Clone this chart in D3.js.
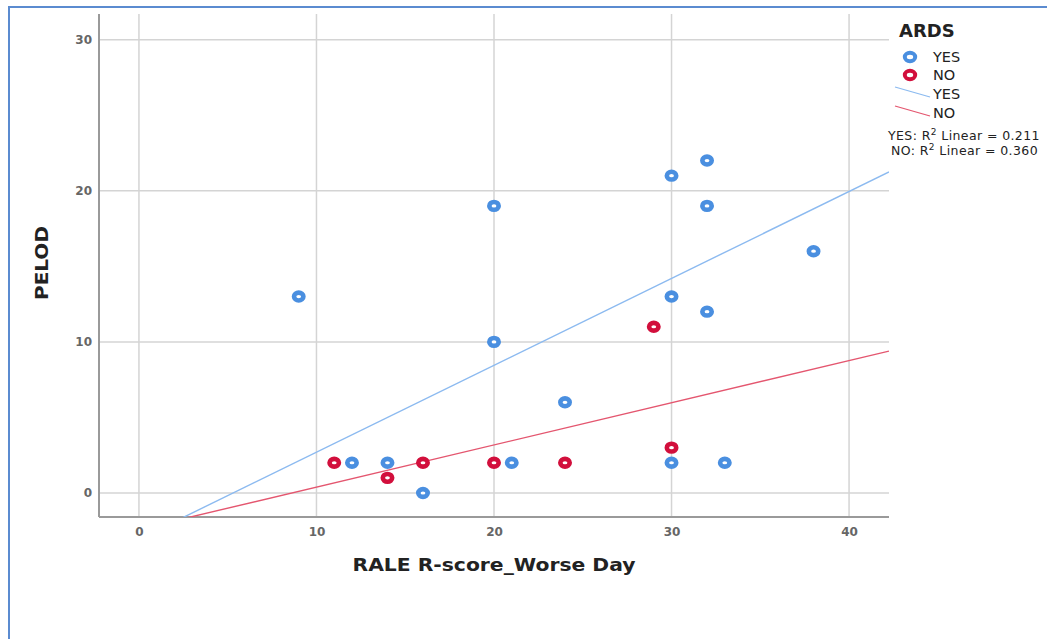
<!DOCTYPE html>
<html>
<head>
<meta charset="utf-8">
<script src="https://cdn.jsdelivr.net/npm/d3@7/dist/d3.min.js"></script>
<style>
  html, body { margin: 0; padding: 0; background: #fff; }
  svg { display: block; }
</style>
</head>
<body>
<svg id="chart" width="1047" height="639"></svg>
<script>
// RALE score vs PELOD, split by ARDS status
const yesX = [9, 12, 14, 16, 20, 20, 21, 24, 30, 30, 30, 32, 32, 32, 33, 38];
const yesY = [13, 2, 2, 0, 19, 10, 2, 6, 21, 13, 2, 22, 19, 12, 2, 16];
const noX = [11, 14, 16, 20, 24, 29, 30];
const noY = [2, 1, 2, 2, 2, 11, 3];

// linear fit lines [intercept, slope]
const yesFit = [-3.05, 0.575];
const noFit = [-2.40, 0.279];

const xTicks = [0, 10, 20, 30, 40];
const yTicks = [0, 10, 20, 30];
const r2Labels = [["YES: R", " Linear = 0.211"], ["NO: R", " Linear = 0.360"]];

const blue = "#4a8fe0", red = "#d20f3c";
const blueLine = "#8cbaf0", redLine = "#e4566f";
const FONT = "DejaVu Sans";

const svg = d3.select("#chart");

// outer frame
svg.append("path")
  .attr("d", "M9,639 L9,7 L1047,7")
  .attr("fill", "none").attr("stroke", "#5b8bd0").attr("stroke-width", 2);

const L = 99, R = 889, T = 14, B = 517;
const x = d3.scaleLinear().domain([-2.25, 42.25]).range([L, R]);
const y = d3.scaleLinear().domain([-1.59, 31.7]).range([B, T]);

const g = svg.append("g");

// grid
g.selectAll(".vg").data(xTicks).join("line")
  .attr("x1", d => x(d)).attr("x2", d => x(d)).attr("y1", T).attr("y2", B)
  .attr("stroke", "#d4d4d4").attr("stroke-width", 1.5);
g.selectAll(".hg").data(yTicks).join("line")
  .attr("x1", L).attr("x2", R).attr("y1", d => y(d)).attr("y2", d => y(d))
  .attr("stroke", "#d4d4d4").attr("stroke-width", 1.5);

// axes
const xAxis = g.append("g").attr("transform", `translate(0,${B})`)
  .call(d3.axisBottom(x).tickValues(xTicks).tickSize(0).tickPadding(10));
const yAxis = g.append("g").attr("transform", `translate(${L},0)`)
  .call(d3.axisLeft(y).tickValues(yTicks).tickSize(0).tickPadding(7));
[xAxis, yAxis].forEach(a => {
  a.select(".domain").attr("stroke", "#9a9a9a").attr("stroke-width", 2);
  a.selectAll("text").attr("font-family", FONT).attr("font-size", 12)
    .attr("font-weight", "bold").attr("fill", "#666");
});
yAxis.select(".domain").attr("d", `M0,${T}V${B}`);
xAxis.select(".domain").attr("d", `M${L},0H${R}`);

// fit lines clipped to plot
svg.append("clipPath").attr("id", "plotclip").append("rect")
  .attr("x", L).attr("y", T).attr("width", R - L).attr("height", B - T);
const fitLine = (f) => {
  const xs = [-2.25, 42.25];
  return d3.line()(xs.map(v => [x(v), y(f[0] + f[1] * v)]));
};
g.append("path").attr("d", fitLine(yesFit)).attr("clip-path", "url(#plotclip)")
  .attr("stroke", blueLine).attr("stroke-width", 1.4).attr("fill", "none");
g.append("path").attr("d", fitLine(noFit)).attr("clip-path", "url(#plotclip)")
  .attr("stroke", redLine).attr("stroke-width", 1.4).attr("fill", "none");

// markers
const ring = (sel, color) => sel
  .attr("rx", 4.7).attr("ry", 3.9).attr("fill", "#fff")
  .attr("stroke", color).attr("stroke-width", 4.6);
g.selectAll(".yes").data(yesX.map((v, i) => [v, yesY[i]])).join("ellipse")
  .attr("cx", d => x(d[0])).attr("cy", d => y(d[1])).call(ring, blue);
g.selectAll(".no").data(noX.map((v, i) => [v, noY[i]])).join("ellipse")
  .attr("cx", d => x(d[0])).attr("cy", d => y(d[1])).call(ring, red);

// axis titles
svg.append("text").attr("x", 494).attr("y", 571).attr("text-anchor", "middle")
  .attr("font-family", FONT).attr("font-weight", "bold").attr("font-size", 18)
  .attr("textLength", 283).attr("lengthAdjust", "spacingAndGlyphs")
  .attr("fill", "#222").text("RALE R-score_Worse Day");
svg.append("text").attr("transform", "translate(48,263) rotate(-90)")
  .attr("text-anchor", "middle")
  .attr("font-family", FONT).attr("font-weight", "bold").attr("font-size", 18)
  .attr("textLength", 74).attr("lengthAdjust", "spacingAndGlyphs")
  .attr("fill", "#222").text("PELOD");

// legend
const lg = svg.append("g");
lg.append("text").attr("x", 899).attr("y", 37)
  .attr("font-family", FONT).attr("font-weight", "bold").attr("font-size", 18)
  .attr("fill", "#222").text("ARDS");
lg.append("ellipse").attr("cx", 910).attr("cy", 57).call(ring, blue)
  .attr("rx", 5.2).attr("ry", 4.2).attr("stroke-width", 4);
lg.append("ellipse").attr("cx", 910).attr("cy", 75).call(ring, red)
  .attr("rx", 5.2).attr("ry", 4.2).attr("stroke-width", 4);
lg.append("line").attr("x1", 895).attr("y1", 87).attr("x2", 930).attr("y2", 97)
  .attr("stroke", blueLine).attr("stroke-width", 1.3);
lg.append("line").attr("x1", 895).attr("y1", 106).attr("x2", 930).attr("y2", 116)
  .attr("stroke", redLine).attr("stroke-width", 1.3);
const legText = [["YES", 62], ["NO", 80], ["YES", 99], ["NO", 118]];
lg.selectAll(".lt").data(legText).join("text")
  .attr("x", 933).attr("y", d => d[1])
  .attr("font-family", FONT).attr("font-size", 14.5).attr("fill", "#222")
  .text(d => d[0]);
const r2 = lg.selectAll(".r2").data(r2Labels).join("text")
  .attr("x", (d, i) => i === 0 ? 888 : 891).attr("y", (d, i) => 140 + i * 15)
  .attr("font-family", FONT).attr("font-size", 12.5).attr("letter-spacing", 0.4)
  .attr("fill", "#222");
r2.append("tspan").text(d => d[0]);
r2.append("tspan").attr("dy", -5).attr("font-size", 9).text("2");
r2.append("tspan").attr("dy", 5).text(d => d[1]);
</script>
</body>
</html>
